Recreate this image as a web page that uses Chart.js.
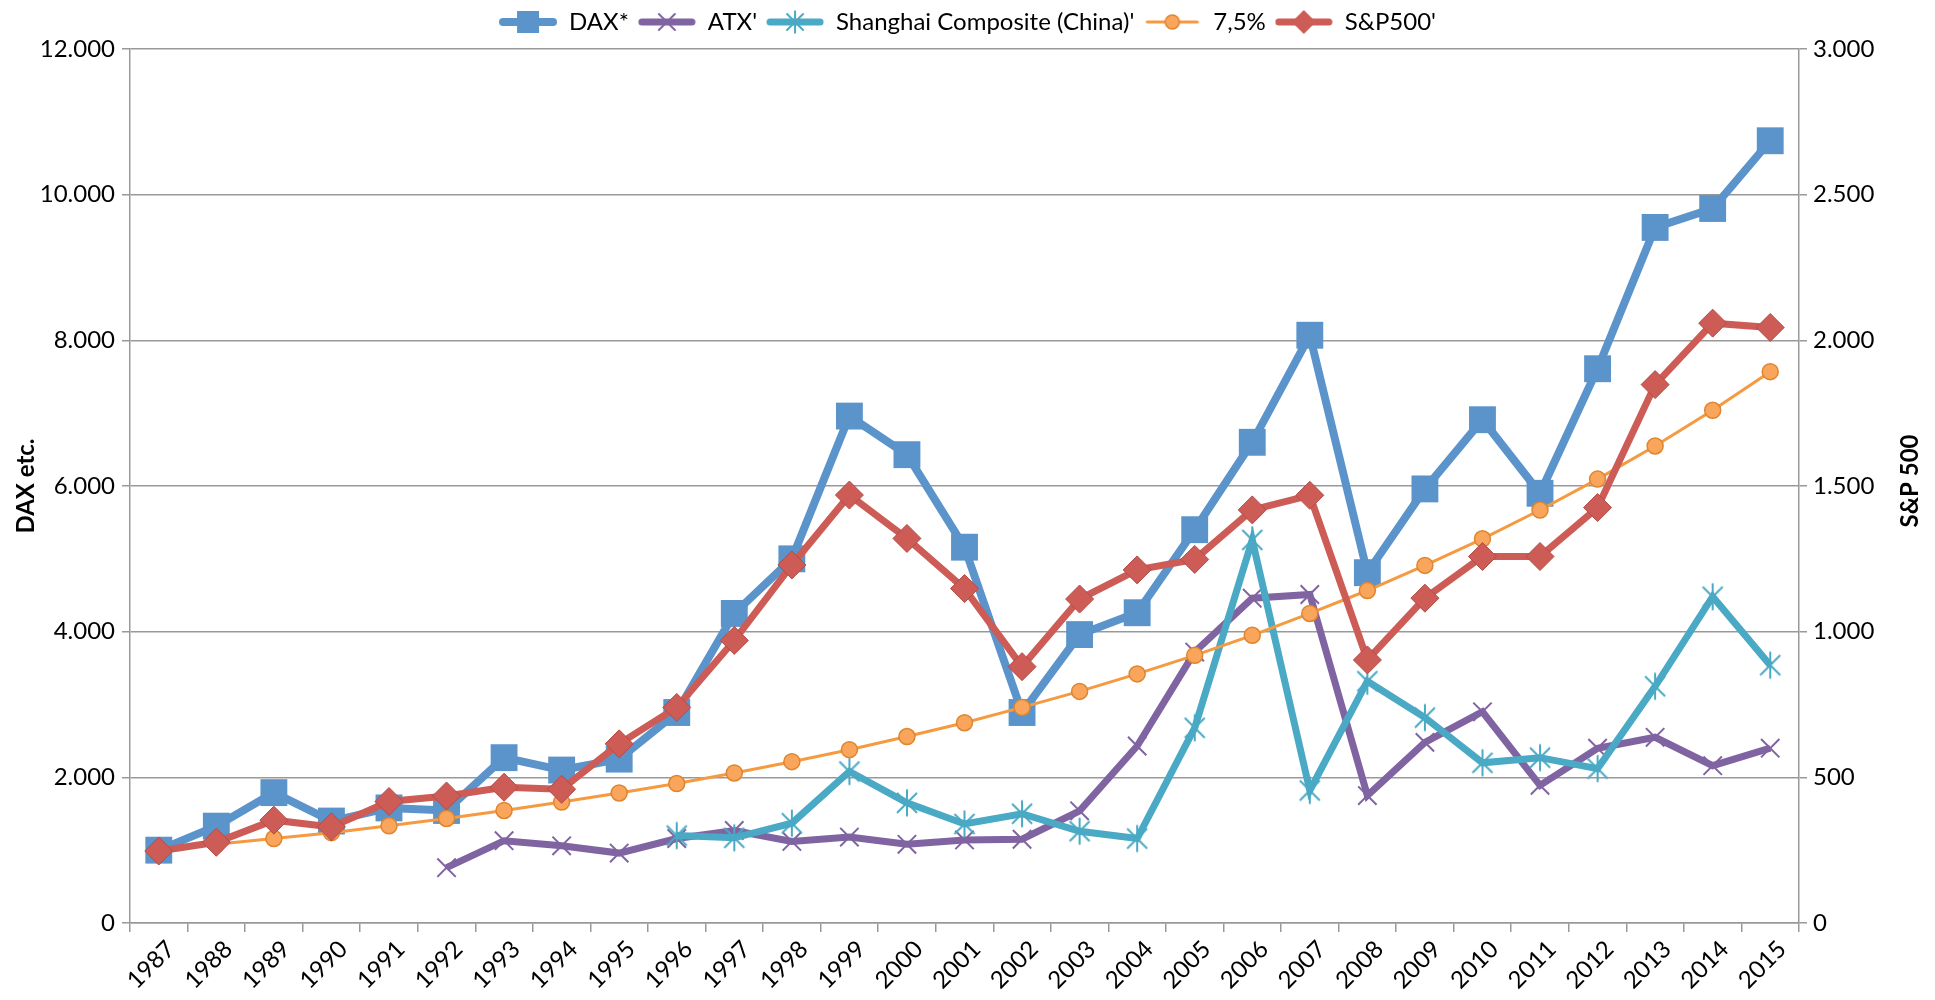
<!DOCTYPE html>
<html>
<head>
<meta charset="utf-8">
<script src="https://cdn.jsdelivr.net/npm/chart.js@4"></script>
<style>
  html, body { margin: 0; padding: 0; background: #fff; }
  #wrap { width: 1935px; height: 1000px; }
</style>
</head>
<body>
<div id="wrap"><canvas id="chart" width="1935" height="1000"></canvas></div>
<script>
// years on the x axis
const years = ['1987','1988','1989','1990','1991','1992','1993','1994','1995','1996','1997','1998','1999','2000',
  '2001','2002','2003','2004','2005','2006','2007','2008','2009','2010','2011','2012','2013','2014','2015'];

// left axis series
const dax = [1000, 1330, 1790, 1400, 1580, 1545, 2270, 2100, 2250, 2890, 4250, 5000, 6960, 6430,
  5160, 2890, 3960, 4260, 5400, 6600, 8070, 4810, 5960, 6910, 5900, 7610, 9550, 9810, 10740];
const atx = [null, null, null, null, null, 760, 1130, 1060, 960, 1160, 1270, 1120, 1180, 1080,
  1140, 1150, 1540, 2430, 3720, 4460, 4510, 1750, 2480, 2900, 1890, 2400, 2550, 2160, 2400];
const shanghai = [null, null, null, null, null, null, null, null, null, 1200, 1170, 1370, 2080, 1650,
  1360, 1500, 1260, 1160, 2680, 5260, 1820, 3320, 2820, 2200, 2270, 2120, 3250, 4480, 3540];
const growth75 = [1000, 1080, 1160, 1240, 1335, 1435, 1545, 1660, 1785, 1915, 2060, 2215, 2380, 2560,
  2750, 2960, 3180, 3420, 3675, 3950, 4250, 4565, 4910, 5275, 5670, 6095, 6550, 7040, 7570];

// right axis series
const sp500 = [247, 277, 353, 330, 417, 436, 466, 459, 615, 740, 970, 1229, 1469, 1320,
  1148, 880, 1112, 1212, 1248, 1418, 1468, 903, 1115, 1258, 1258, 1426, 1848, 2059, 2044];

const FONT = 'Lato, "Open Sans", sans-serif';
const dots = v => String(v).replace(/\B(?=(\d{3})+(?!\d))/g, '.');

// Excel style asterisk (x with a vertical bar)
function asterisk(x, cx, cy, r, color) {
  x.strokeStyle = color; x.lineWidth = 2; x.beginPath();
  x.moveTo(cx - r, cy - r); x.lineTo(cx + r, cy + r); x.moveTo(cx + r, cy - r); x.lineTo(cx - r, cy + r);
  x.moveTo(cx, cy - r * 1.35); x.lineTo(cx, cy + r * 1.35); x.stroke();
}
const starMark = document.createElement('canvas');
starMark.width = 30; starMark.height = 30;
asterisk(starMark.getContext('2d'), 15, 15, 10, '#4aa9c4');

// little line+marker pictures for the legend, like Excel does
function legendIcon(color, lw, draw) {
  const c = document.createElement('canvas');
  c.width = 58; c.height = 28;
  const x = c.getContext('2d');
  x.strokeStyle = color;
  x.lineWidth = lw;
  x.lineCap = 'round';
  x.beginPath(); x.moveTo(4, 14); x.lineTo(54, 14); x.stroke();
  draw(x, 29, 14);
  return c;
}

const icons = [
  legendIcon('#5b93cb', 8, (x, cx, cy) => { x.fillStyle = '#5b93cb'; x.fillRect(cx - 11, cy - 11, 22, 22); }),
  legendIcon('#8064a2', 7, (x, cx, cy) => {
    x.strokeStyle = '#8064a2'; x.lineWidth = 2; x.beginPath();
    x.moveTo(cx - 8, cy - 8); x.lineTo(cx + 8, cy + 8); x.moveTo(cx + 8, cy - 8); x.lineTo(cx - 8, cy + 8); x.stroke();
  }),
  legendIcon('#4aa9c4', 7, (x, cx, cy) => asterisk(x, cx, cy, 8, '#4aa9c4')),
  legendIcon('#f59a40', 3, (x, cx, cy) => {
    x.fillStyle = '#f9a55b'; x.strokeStyle = '#e0852f'; x.lineWidth = 1.5;
    x.beginPath(); x.arc(cx, cy, 7, 0, Math.PI * 2); x.fill(); x.stroke();
  }),
  legendIcon('#cd5c57', 7, (x, cx, cy) => {
    x.fillStyle = '#cd5c57'; x.beginPath();
    x.moveTo(cx, cy - 12); x.lineTo(cx + 12, cy); x.lineTo(cx, cy + 12); x.lineTo(cx - 12, cy); x.closePath(); x.fill();
  })
];

// a bit more room under the legend
const legendGap = {
  id: 'legendGap',
  beforeInit(chart) {
    const fit = chart.legend.fit;
    chart.legend.fit = function () {
      fit.call(this);
      this.height += 5;
    };
  }
};

// right axis title reads bottom-to-top, like in Excel
const rightTitle = {
  id: 'rightTitle',
  afterDraw(chart) {
    const c = chart.ctx;
    const area = chart.chartArea;
    c.save();
    c.translate(1910, (area.top + area.bottom) / 2 - 5);
    c.rotate(-Math.PI / 2);
    c.font = 'bold 24px ' + FONT;
    c.fillStyle = '#000';
    c.textAlign = 'center';
    c.textBaseline = 'middle';
    c.fillText('S&P 500', 0, 0);
    c.restore();
  }
};

const ctx = document.getElementById('chart');

new Chart(ctx, {
  type: 'line',
  plugins: [legendGap, rightTitle],
  data: {
    labels: years,
    datasets: [
      {
        label: 'DAX*', data: dax, yAxisID: 'y', order: 5,
        borderColor: '#5b93cb', backgroundColor: '#5b93cb', borderWidth: 8,
        pointStyle: 'rect', pointRadius: 19, pointBackgroundColor: '#5b93cb', pointBorderColor: '#5b93cb', pointBorderWidth: 0
      },
      {
        label: "ATX'", data: atx, yAxisID: 'y', order: 4,
        borderColor: '#8064a2', backgroundColor: '#8064a2', borderWidth: 7,
        pointStyle: 'crossRot', pointRadius: 13, pointBorderColor: '#8064a2', pointBorderWidth: 2
      },
      {
        label: "Shanghai Composite (China)'", data: shanghai, yAxisID: 'y', order: 3,
        borderColor: '#4aa9c4', backgroundColor: '#4aa9c4', borderWidth: 7,
        pointStyle: starMark, pointRadius: 13
      },
      {
        label: '7,5%', data: growth75, yAxisID: 'y', order: 2,
        borderColor: '#f59a40', backgroundColor: '#f9a55b', borderWidth: 3,
        pointStyle: 'circle', pointRadius: 8, pointBackgroundColor: '#f9a55b', pointBorderColor: '#e0852f', pointBorderWidth: 1.5
      },
      {
        label: "S&P500'", data: sp500, yAxisID: 'y2', order: 1,
        borderColor: '#cd5c57', backgroundColor: '#cd5c57', borderWidth: 7,
        pointStyle: 'rectRot', pointRadius: 14, pointBackgroundColor: '#cd5c57', pointBorderColor: '#b24c47', pointBorderWidth: 1
      }
    ]
  },
  options: {
    responsive: false,
    animation: false,
    tension: 0,
    layout: { padding: { top: 1, left: 0, right: 0, bottom: 0 } },
    plugins: {
      tooltip: { enabled: false },
      legend: {
        position: 'top',
        labels: {
          usePointStyle: true,
          pointStyleWidth: 58,
          padding: 9,
          color: '#000',
          font: { family: FONT, size: 24 },
          sort: (a, b) => a.datasetIndex - b.datasetIndex,
          generateLabels: chart => Chart.defaults.plugins.legend.labels.generateLabels(chart)
            .map(l => Object.assign(l, { pointStyle: icons[l.datasetIndex] }))
        }
      }
    },
    scales: {
      x: {
        offset: true,
        grid: { offset: true, drawOnChartArea: false, color: '#999', lineWidth: 1.5, tickLength: 9 },
        border: { color: '#999', width: 1.5 },
        ticks: { color: '#000', font: { family: FONT, size: 24 }, maxRotation: 45, minRotation: 45, padding: 3, labelOffset: 12, autoSkip: false },
        afterFit: s => { s.height = 77; }
      },
      y: {
        position: 'left', min: 0, max: 12000,
        grid: { color: '#999', lineWidth: 1.5, tickLength: 8 },
        border: { color: '#999', width: 1.5 },
        ticks: { stepSize: 2000, color: '#000', font: { family: FONT, size: 24 }, padding: 7, callback: v => dots(v) },
        title: { display: true, text: 'DAX etc.', color: '#000', font: { family: FONT, size: 24, weight: 'bold' }, padding: { top: 12, bottom: 0 } },
        afterFit: s => { s.width = 130; }
      },
      y2: {
        position: 'right', min: 0, max: 3000,
        grid: { drawOnChartArea: false, color: '#999', lineWidth: 1.5, tickLength: 8 },
        border: { color: '#999', width: 1.5 },
        ticks: { stepSize: 500, color: '#000', font: { family: FONT, size: 24 }, padding: 6, callback: v => dots(v) },
        afterFit: s => { s.width = 136; }
      }
    }
  }
});
</script>
</body>
</html>
